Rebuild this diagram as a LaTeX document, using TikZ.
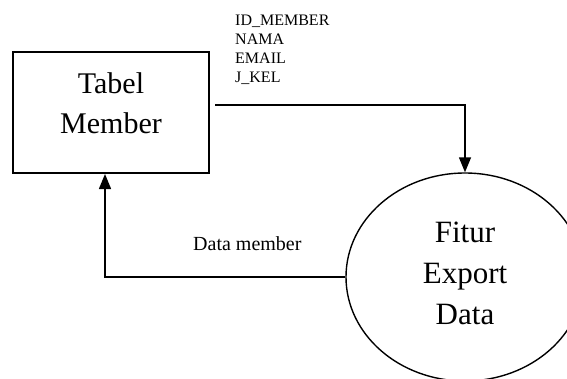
\documentclass[tikz,border=0pt]{standalone}
\usepackage{fontspec}
\setmainfont{Liberation Serif}
\usetikzlibrary{shapes.geometric,arrows.meta}
\begin{document}
\begin{tikzpicture}[x=1pt,y=-1pt,
  entity/.style={draw,line width=2pt,rectangle,minimum width=196pt,minimum height=121pt,
    align=center,font=\fontsize{30}{40}\selectfont,text depth=19pt,inner sep=0pt},
  process/.style={draw,line width=1.4pt,ellipse,minimum width=238pt,minimum height=208pt,
    align=center,font=\fontsize{31}{41}\selectfont,text depth=8pt,inner sep=0pt},
  flow/.style={line width=1.4pt,-{Triangle[length=15pt,width=12pt]}},
  attr/.style={align=left,font=\fontsize{16}{19}\selectfont,inner sep=0pt},
  flowlabel/.style={font=\fontsize{20}{24}\selectfont,inner sep=0pt}]
\useasboundingbox (0,0) rectangle (567,378);
\fill[white] (0,0) rectangle (567,378);
\node[entity] (tm) at (111,112.5) {Tabel\\Member};
\node[process] (fe) at (465,277) {Fitur\\Export\\Data};
\coordinate (s1) at (215,105);
\draw[flow] (s1) -| (fe.north);
\draw[flow] (fe.west) -| ([xshift=-6pt]tm.south);
\node[attr,anchor=north west] (at) at (235,15) {ID\_MEMBER\\NAMA\\EMAIL\\J\_KEL};
\node[flowlabel,anchor=base west] (dm) at (193,250) {Data member};
\end{tikzpicture}
\end{document}
